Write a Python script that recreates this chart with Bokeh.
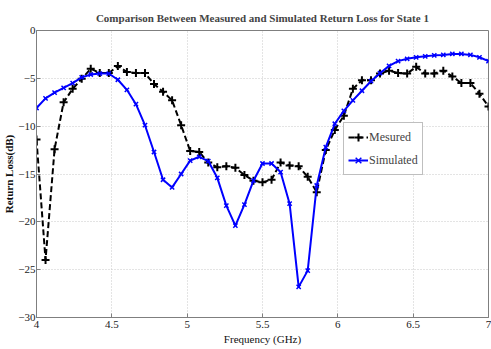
from bokeh.plotting import figure
from bokeh.models import FixedTicker, Legend, LegendItem, Range1d
from bokeh.embed import file_html
from bokeh.resources import INLINE

freq_ghz = [4.00, 4.06, 4.12, 4.18, 4.24, 4.30, 4.36, 4.42, 4.48, 4.54,
            4.60, 4.66, 4.72, 4.78, 4.84, 4.90, 4.96, 5.02, 5.08, 5.14,
            5.20, 5.26, 5.32, 5.38, 5.44, 5.50, 5.56, 5.62, 5.68, 5.74,
            5.80, 5.86, 5.92, 5.98, 6.04, 6.10, 6.16, 6.22, 6.28, 6.34,
            6.40, 6.46, 6.52, 6.58, 6.64, 6.70, 6.76, 6.82, 6.88, 6.94, 7.00]

measured_db = [-11.4, -24.0, -12.4, -7.5, -6.1, -5.05, -4.0, -4.45, -4.45, -3.7,
               -4.35, -4.45, -4.45, -5.6, -6.4, -7.3, -9.9, -12.6, -12.7, -13.8,
               -14.3, -14.2, -14.35, -15.1, -15.7, -15.85, -15.6, -13.8, -14.1, -14.2,
               -15.3, -16.9, -12.5, -10.4, -8.9, -6.1, -5.2, -5.2, -4.5, -4.2,
               -4.45, -4.5, -3.8, -4.5, -4.5, -4.2, -4.8, -5.5, -5.5, -6.6, -7.95]

simulated_db = [-8.1, -7.1, -6.5, -6.0, -5.5, -4.9, -4.6, -4.5, -4.5, -5.15,
                -6.2, -7.7, -9.9, -12.7, -15.6, -16.4, -15.0, -13.6, -13.2, -13.65,
                -15.4, -18.3, -20.4, -18.2, -15.7, -13.9, -13.9, -14.8, -18.1, -26.8,
                -25.1, -16.2, -12.2, -9.75, -8.4, -7.3, -6.3, -5.3, -4.46, -3.7,
                -3.2, -2.96, -2.8, -2.7, -2.6, -2.55, -2.45, -2.45, -2.55, -2.8, -3.2]

x_ticks = [4, 4.5, 5, 5.5, 6, 6.5, 7]
x_tick_labels = {4: "4", 4.5: "4.5", 5: "5", 5.5: "5.5", 6: "6", 6.5: "6.5", 7: "7"}
y_ticks = [-30, -25, -20, -15, -10, -5, 0]

title_text = "Comparison Between Measured and Simulated Return Loss for State 1"
x_label = "Frequency (GHz)"
y_label = "Return Loss(dB)"
serif = "Liberation Serif"

p = figure(width=491, height=349, output_backend="svg", toolbar_location=None,
           x_range=Range1d(4, 7), y_range=Range1d(-30, 0),
           min_border_left=36, min_border_right=3, min_border_top=30, min_border_bottom=32)

p.title.text = title_text
p.title.align = "center"
p.title.text_font = serif
p.title.text_font_size = "11px"
p.title.text_font_style = "bold"
p.title.offset = 0
p.title.standoff = 13

p.outline_line_color = "#7f7f7f"
p.outline_line_width = 1

for ax in (p.xaxis[0], p.yaxis[0]):
    ax.major_tick_in = 4
    ax.major_tick_out = 0
    ax.minor_tick_in = 0
    ax.minor_tick_out = 0
    ax.axis_line_color = "#7f7f7f"
    ax.major_tick_line_color = "#7f7f7f"
    ax.major_label_text_font = serif
    ax.major_label_text_font_size = "11px"
    ax.major_label_text_color = "#222222"
    ax.axis_label_text_font = serif
    ax.axis_label_text_font_size = "11px"
    ax.axis_label_text_color = "#111111"

p.xaxis[0].ticker = FixedTicker(ticks=x_ticks)
p.xaxis[0].major_label_overrides = x_tick_labels
p.xaxis[0].axis_label = x_label
p.xaxis[0].axis_label_text_font_style = "normal"
p.xaxis[0].major_label_standoff = 3
p.xaxis[0].axis_label_standoff = 2

p.yaxis[0].ticker = FixedTicker(ticks=y_ticks)
p.yaxis[0].axis_label = y_label
p.yaxis[0].axis_label_text_font_style = "bold"
p.yaxis[0].major_label_standoff = 1
p.yaxis[0].axis_label_standoff = 0

p.xgrid.ticker = FixedTicker(ticks=x_ticks)
p.ygrid.ticker = FixedTicker(ticks=y_ticks)
for g in (p.xgrid[0], p.ygrid[0]):
    g.grid_line_color = "#c8c8c8"
    g.grid_line_dash = "1 2"
    g.grid_line_width = 1

m_line = p.line(freq_ghz, measured_db, line_color="black", line_width=2, line_dash="6 3")
m_pts = p.scatter(freq_ghz, measured_db, marker="cross", size=8, line_color="black", line_width=2)
s_line = p.line(freq_ghz, simulated_db, line_color="#0000ff", line_width=2)
s_pts = p.scatter(freq_ghz, simulated_db, marker="x", size=6, line_color="#0000ff", line_width=1.5)

legend = Legend(items=[LegendItem(label="Mesured", renderers=[m_line, m_pts]),
                       LegendItem(label="Simulated", renderers=[s_line, s_pts])],
                location=(307, 142), label_text_font=serif, label_text_font_size="12px",
                glyph_width=20, glyph_height=20, label_standoff=1, padding=4, spacing=3,
                border_line_color="#7f7f7f", border_line_width=1, background_fill_alpha=1,
                margin=0)
p.add_layout(legend, "center")

open("out.html", "w").write(file_html(p, INLINE))
